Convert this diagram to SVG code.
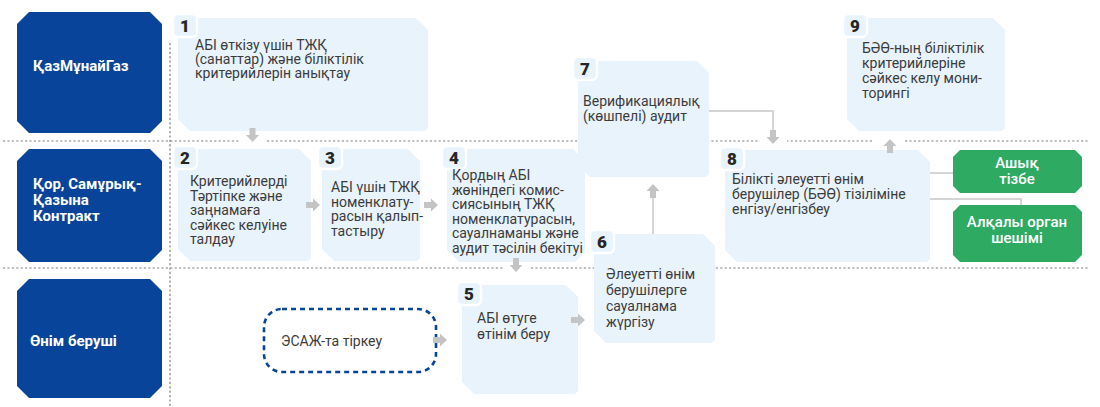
<svg xmlns="http://www.w3.org/2000/svg" xmlns:xlink="http://www.w3.org/1999/xlink" width="1100" height="407" viewBox="0 0 1100 407">
<style>
.sep{stroke:#808080;stroke-width:1.2;stroke-dasharray:2.2 2.2;fill:none}
.hdr{fill:#08449a}
.hdrt{fill:#ffffff;font-family:Roboto,"Noto Sans",sans-serif;font-size:15px;font-weight:bold}
.box{fill:#e8f3fc}
.tab{fill:#e8f3fc;stroke:#ffffff;stroke-width:2.5}
.num{fill:#262626;font-family:Roboto,"Noto Sans",sans-serif;font-size:17px;font-weight:900;text-anchor:middle}
.txt{fill:#3c3c3c;font-family:Roboto,"Noto Sans",sans-serif;font-size:14px}
.grn{fill:#2eaa62}
.grnt{fill:#ffffff;font-family:Roboto,"Noto Sans",sans-serif;font-size:15px;font-weight:500;text-anchor:middle}
.ln{stroke:#c8c8c8;stroke-width:1.5;fill:none}
.ar{fill:#c4c4c4}
.gap{fill:#ffffff}
</style>
<defs>
<path id="arr" d="M0,-3 H7 V-6.5 L14,0 L7,6.5 V3 H0 Z"/>
</defs>
<rect width="1100" height="407" fill="#ffffff"/>

<g id="separators">
<line class="sep" x1="3" y1="141" x2="1088" y2="141"/>
<line class="sep" x1="3" y1="268" x2="1088" y2="268"/>
<line class="sep" x1="170" y1="43" x2="170" y2="407"/>
<rect class="gap" x="240" y="136" width="26" height="10"/>
<rect class="gap" x="503" y="263" width="27" height="10"/>
<rect class="gap" x="760" y="136" width="27" height="10"/>
<rect class="gap" x="874" y="136" width="29" height="10"/>
</g>

<g id="lane-kmg">
<path class="hdr" d="M29,12 H150 L162,24 V121 L150,133 H29 L17,121 V24 Z"/>
<text class="hdrt" x="33" y="71">ҚазМұнайГаз</text>
</g>
<g id="lane-fund">
<path class="hdr" d="M29,149 H150 L162,161 V250 L150,262 H29 L17,250 V161 Z"/>
<text class="hdrt"><tspan x="33" y="189">Қор, Самұрық-</tspan><tspan x="33" y="205">Қазына</tspan><tspan x="33" y="221">Контракт</tspan></text>
</g>
<g id="lane-supplier">
<path class="hdr" d="M29,279 H150 L162,291 V386 L150,398 H29 L17,386 V291 Z"/>
<text class="hdrt" x="30" y="346">Өнім беруші</text>
</g>

<g id="node1">
<path class="box" d="M181,18 H416 L428,30 V128 L425,131 H190 L178,119 V21 Z"/>
<rect class="tab" x="173" y="14" width="24" height="23" rx="5"/>
<text class="num" x="185" y="32">1</text>
<text class="txt"><tspan x="195" y="50">АБІ өткізу үшін ТЖҚ</tspan><tspan x="195" y="64">(санаттар) және біліктілік</tspan><tspan x="195" y="78">критерийлерін анықтау</tspan></text>
</g>
<g id="node2">
<path class="box" d="M181,149 H299 L311,161 V258 L308,261 H190 L178,249 V152 Z"/>
<rect class="tab" x="173" y="146" width="24" height="23" rx="5"/>
<text class="num" x="185" y="164">2</text>
<text class="txt"><tspan x="190" y="186">Критерийлерді</tspan><tspan x="190" y="200.5">Тәртіпке және</tspan><tspan x="190" y="215">заңнамаға</tspan><tspan x="190" y="229.5">сәйкес келуіне</tspan><tspan x="190" y="244">талдау</tspan></text>
</g>
<g id="node3">
<path class="box" d="M325,149 H408 L420,161 V258 L417,261 H334 L322,249 V152 Z"/>
<rect class="tab" x="318" y="146" width="24" height="23" rx="5"/>
<text class="num" x="330" y="164">3</text>
<text class="txt"><tspan x="331" y="192">АБІ үшін ТЖҚ</tspan><tspan x="331" y="206.5">номенклату-</tspan><tspan x="331" y="221">расын қалып-</tspan><tspan x="331" y="235.5">тастыру</tspan></text>
</g>
<g id="node4">
<path class="box" d="M450,149 H573 L585,161 V252 L575,262 H459 L447,250 V152 Z"/>
<rect class="tab" x="442" y="146" width="24" height="23" rx="5"/>
<text class="num" x="454" y="164">4</text>
<text class="txt"><tspan x="452" y="180">Қордың АБІ</tspan><tspan x="452" y="194.5">жөніндегі комис-</tspan><tspan x="452" y="209">сиясының ТЖҚ</tspan><tspan x="452" y="223.5">номенклатурасын,</tspan><tspan x="452" y="238">сауалнаманы және</tspan><tspan x="452" y="252.5">аудит тәсілін бекітуі</tspan></text>
</g>
<g id="node-esazh">
<rect x="264" y="309" width="172" height="63" rx="18" fill="none" stroke="#08449a" stroke-width="2.6" stroke-dasharray="5 4"/>
<text class="txt" x="281" y="346">ЭСАЖ-та тіркеу</text>
</g>
<g id="node5">
<path class="box" d="M465,285 H566 L578,297 V391 L575,394 H474 L462,382 V288 Z"/>
<rect class="tab" x="457" y="282" width="24" height="23" rx="5"/>
<text class="num" x="469" y="300">5</text>
<text class="txt"><tspan x="477" y="323">АБІ өтуге</tspan><tspan x="477" y="339">өтінім беру</tspan></text>
</g>
<g id="node6">
<path class="box" d="M597,234 H703 L715,246 V340 L712,343 H606 L594,331 V237 Z"/>
<rect class="tab" x="590" y="230" width="24" height="23" rx="5"/>
<text class="num" x="602" y="248">6</text>
<text class="txt"><tspan x="606" y="279">Әлеуетті өнім</tspan><tspan x="606" y="295">берушілерге</tspan><tspan x="606" y="311">сауалнама</tspan><tspan x="606" y="327">жүргізу</tspan></text>
</g>
<g id="node7">
<path class="box" d="M581,61 H697 L709,73 V174 L706,177 H590 L578,165 V64 Z"/>
<rect class="tab" x="573" y="57" width="24" height="23" rx="5"/>
<text class="num" x="585" y="75">7</text>
<text class="txt"><tspan x="583" y="106">Верификациялық</tspan><tspan x="583" y="121">(көшпелі) аудит</tspan></text>
</g>
<g id="node8">
<path class="box" d="M728,150 H918 L930,162 V259 L927,262 H737 L725,250 V153 Z"/>
<rect class="tab" x="720" y="147" width="24" height="23" rx="5"/>
<text class="num" x="732" y="165">8</text>
<text class="txt"><tspan x="732" y="184">Білікті әлеуетті өнім</tspan><tspan x="732" y="199">берушілер (БӘӨ) тізіліміне</tspan><tspan x="732" y="214">енгізу/енгізбеу</tspan></text>
</g>
<g id="node9">
<path class="box" d="M850,18 H993 L1005,30 V128 L1002,131 H859 L847,119 V21 Z"/>
<rect class="tab" x="843" y="14" width="24" height="23" rx="5"/>
<text class="num" x="855" y="32">9</text>
<text class="txt"><tspan x="862" y="53">БӘӨ-ның біліктілік</tspan><tspan x="862" y="68">критерийлеріне</tspan><tspan x="862" y="83">сәйкес келу мони-</tspan><tspan x="862" y="98">торингі</tspan></text>
</g>
<g id="node-open-list">
<path class="grn" d="M960,150 H1075 L1082,157 V186 L1075,193 H960 L953,186 V157 Z"/>
<text class="grnt"><tspan x="1017" y="168">Ашық</tspan><tspan x="1017" y="184">тізбе</tspan></text>
</g>
<g id="node-collegial">
<path class="grn" d="M960,205 H1075 L1082,212 V255 L1075,262 H960 L953,255 V212 Z"/>
<text class="grnt"><tspan x="1017" y="227">Алқалы орган</tspan><tspan x="1017" y="243">шешімі</tspan></text>
</g>

<g id="connectors">
<use href="#arr" class="ar" transform="translate(252.5,128) rotate(90)"/>
<use href="#arr" class="ar" transform="translate(306,205)"/>
<use href="#arr" class="ar" transform="translate(424,205)"/>
<use href="#arr" class="ar" transform="translate(516,258) rotate(90)"/>
<use href="#arr" class="ar" transform="translate(433,340)"/>
<use href="#arr" class="ar" transform="translate(571,320)"/>
<line class="ln" x1="653" y1="234" x2="653" y2="196"/>
<use href="#arr" class="ar" transform="translate(653,198) rotate(-90)"/>
<polyline class="ln" points="709,111 773,111 773,131"/>
<use href="#arr" class="ar" transform="translate(773,130) rotate(90)"/>
<use href="#arr" class="ar" transform="translate(890,153) rotate(-90)"/>
<line class="ln" x1="930" y1="173" x2="953" y2="173"/>
<polyline class="ln" points="930,199 1021,199 1021,205"/>
</g>
</svg>
